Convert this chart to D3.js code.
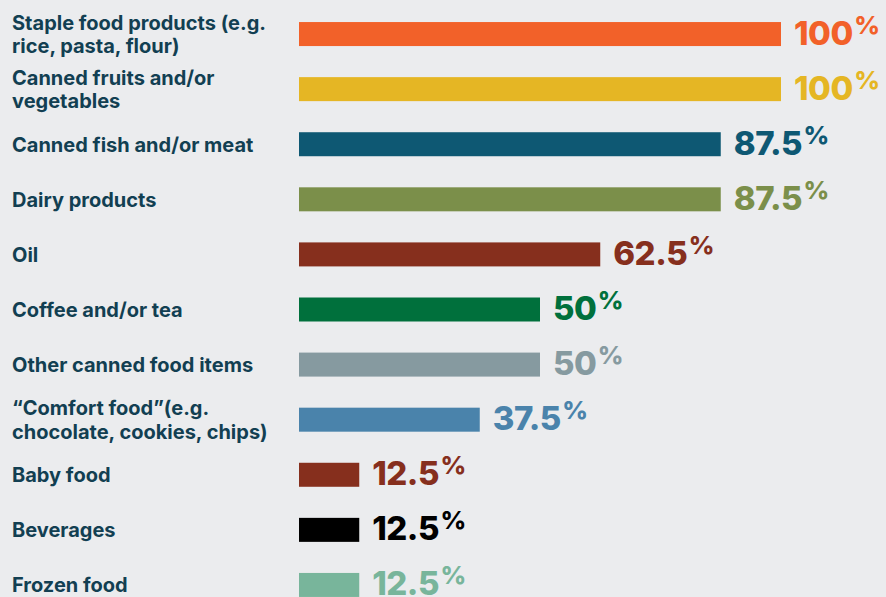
<!DOCTYPE html>
<html>
<head>
<meta charset="utf-8">
<script src="https://cdn.jsdelivr.net/npm/d3@7"></script>
<style>
  html, body { margin: 0; padding: 0; background: #ebecee; }
  svg { display: block; }
</style>
</head>
<body>
<svg id="chart" width="886" height="597"></svg>
<script>
// Food items provided, share of respondents (%)
const categories = [
  ["Staple food products (e.g.", "rice, pasta, flour)"],
  ["Canned fruits and/or", "vegetables"],
  ["Canned fish and/or meat"],
  ["Dairy products"],
  ["Oil"],
  ["Coffee and/or tea"],
  ["Other canned food items"],
  ["\u201cComfort food\u201d(e.g.", "chocolate, cookies, chips)"],
  ["Baby food"],
  ["Beverages"],
  ["Frozen food"]
];
const values = [100, 100, 87.5, 87.5, 62.5, 50, 50, 37.5, 12.5, 12.5, 12.5];
const valueLabels = ["100", "100", "87.5", "87.5", "62.5", "50", "50", "37.5", "12.5", "12.5", "12.5"];
const colors = ["#f26129", "#e5b624", "#0e5873", "#7b8f4a", "#862f1d", "#00703c",
                "#869aa0", "#4a83ab", "#862f1d", "#000000", "#78b59b"];

const svg = d3.select("#chart");
const idx = d3.range(values.length);

const x = d3.scaleLinear().domain([0, 100]).range([299, 781]);
const y = d3.scaleBand().domain(idx).range([6.5, 612.5]).paddingInner(0.56).paddingOuter(0.28);
const barH = 24;
const cy = i => y(i) + y.bandwidth() / 2;

// bars
svg.append("g").selectAll("rect").data(idx).join("rect")
  .attr("x", x(0))
  .attr("y", i => cy(i) - barH / 2)
  .attr("width", i => x(values[i]) - x(0))
  .attr("height", barH)
  .attr("fill", i => colors[i]);

// category labels (one or two lines)
const labels = svg.append("g")
  .attr("font-family", "Inter, 'Noto Sans', sans-serif")
  .attr("font-weight", 700)
  .attr("font-size", 20)
  .attr("fill", "#123f52");
labels.selectAll("text").data(idx).join("text")
  .attr("x", 12)
  .each(function(i) {
    const lines = categories[i];
    const t = d3.select(this);
    if (lines.length === 1) {
      t.append("tspan").attr("x", 12).attr("y", cy(i) + 7.5).text(lines[0]);
    } else {
      t.append("tspan").attr("x", 12).attr("y", cy(i) - 4.5).text(lines[0]);
      t.append("tspan").attr("x", 12).attr("y", cy(i) + 19).text(lines[1]);
    }
  });

// value labels with raised percent sign
const vals = svg.append("g")
  .attr("font-family", "Inter, 'Open Sans', sans-serif")
  .attr("font-weight", 800);
vals.selectAll("text").data(idx).join("text")
  .attr("x", i => x(values[i]) + 13)
  .attr("y", i => cy(i) + 10.5)
  .attr("fill", i => colors[i])
  .each(function(i) {
    const t = d3.select(this);
    t.append("tspan").attr("font-size", 33).attr("letter-spacing", -0.5).text(valueLabels[i]);
    t.append("tspan").attr("font-size", 25).attr("dx", 1.5).attr("dy", -11).text("%");
  });
</script>
</body>
</html>
